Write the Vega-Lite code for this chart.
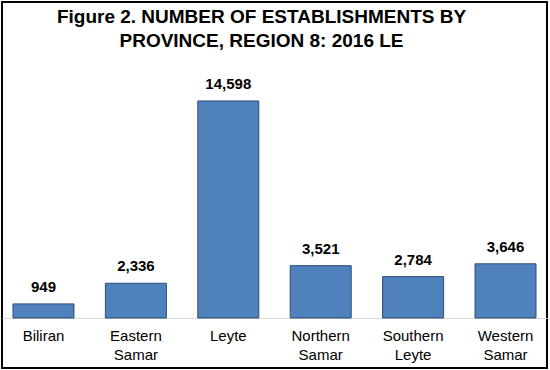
{
  "$schema": "https://vega.github.io/schema/vega-lite/v6.json",
  "autosize": {"type": "none"},
  "padding": {"left": 2, "top": 2, "right": 3, "bottom": 2},
  "width": 545,
  "height": 366,
  "background": "white",
  "config": {
    "view": {"stroke": "black", "strokeWidth": 2},
    "font": "Liberation Sans"
  },
  "title": {
    "text": ["Figure 2. NUMBER OF ESTABLISHMENTS BY", "PROVINCE, REGION 8: 2016 LE"],
    "font": "Liberation Sans",
    "fontSize": 19,
    "fontWeight": "bold",
    "color": "#000000",
    "anchor": "middle",
    "baseline": "top",
    "lineHeight": 24,
    "offset": -49,
    "dx": -13
  },
  "data": {
    "values": [
      {"province": "Biliran", "value": 949},
      {"province": "Eastern Samar", "value": 2336},
      {"province": "Leyte", "value": 14598},
      {"province": "Northern Samar", "value": 3521},
      {"province": "Southern Leyte", "value": 2784},
      {"province": "Western Samar", "value": 3646}
    ]
  },
  "encoding": {
    "x": {
      "field": "province",
      "type": "nominal",
      "sort": null,
      "scale": {"paddingInner": 0.34, "paddingOuter": 0.119},
      "axis": {
        "title": null,
        "orient": "bottom",
        "offset": -50,
        "labelAngle": 0,
        "domainColor": "#d9d9d9",
        "domainWidth": 1,
        "ticks": false,
        "labelPadding": 10,
        "labelFontSize": 15,
        "labelColor": "#000000",
        "labelLineHeight": 19,
        "labelBaseline": "top",
        "labelExpr": "split(datum.label, ' ')"
      }
    },
    "y": {
      "field": "value",
      "type": "quantitative",
      "scale": {"domain": [-3364, 21258], "zero": false, "nice": false},
      "axis": null
    }
  },
  "layer": [
    {
      "mark": {"type": "bar", "color": "#4f81bd", "stroke": "#2c4d75", "strokeWidth": 1},
      "encoding": {"y2": {"datum": 0}}
    },
    {
      "mark": {"type": "text", "baseline": "bottom", "dy": -9, "fontSize": 15, "fontWeight": "bold", "color": "#000000"},
      "encoding": {"text": {"field": "value", "type": "quantitative", "format": ","}}
    }
  ]
}
